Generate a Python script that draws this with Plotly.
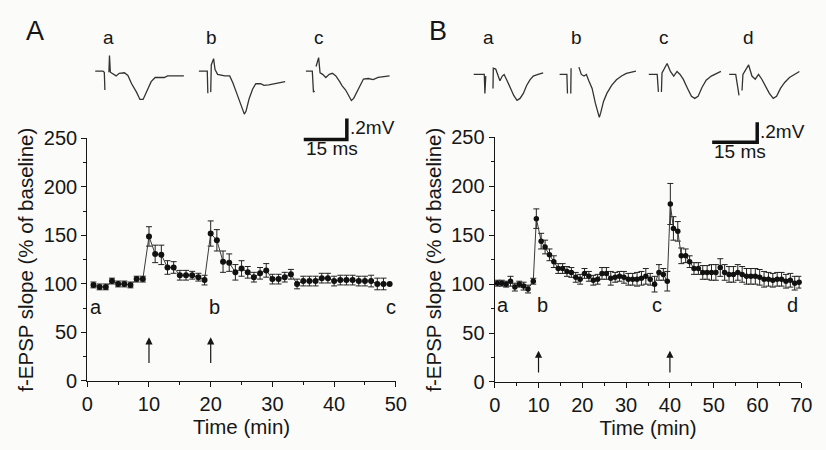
import plotly.graph_objects as go

W, H = 826, 450
FONT = "Liberation Sans"
INK = "#161616"
BG = "#fbfbf9"

# ---------------- data: panel A ----------------
A_time = list(range(1, 50))
A_mean = [99, 97, 97, 103, 100, 100, 99, 105, 105,
          149, 131, 130, 117, 117, 109, 109, 109, 107, 104,
          152, 145, 123, 122, 112, 116, 112, 107, 111, 114,
          105, 105, 107, 110, 100, 103, 103, 103, 106, 106,
          103, 104, 104, 104, 103, 103, 103, 100, 100, 100]
A_err = [3, 3, 3, 3, 3, 3, 3, 3, 3,
         10, 9, 10, 7, 6, 5, 5, 4, 4, 5,
         13, 11, 11, 9, 8, 8, 6, 5, 6, 7,
         5, 5, 5, 5, 5, 5, 5, 5, 5, 5,
         5, 5, 5, 5, 5, 5, 6, 6, 6]
A_letters = ["a", "b", "c"]
A_letter_t = [1.4, 20.6, 49.2]
A_arrow_t = [10, 20]

# ---------------- data: panel B ----------------
B_time = [0.6, 1.6, 2.6, 3.6, 4.6, 5.6, 6.6, 7.6, 8.8,
          9.5,
          10.6, 11.5, 12.5, 13.5, 14.5, 15.5, 16.5, 17.5, 18.5, 19.5,
          20.5, 21.5, 22.5, 23.5, 24.5, 25.5, 26.5, 27.5, 28.5, 29.5,
          30.5, 31.5, 32.5, 33.5, 34.5, 35.5, 36.5, 37.5, 38.5,
          39.4, 40.1, 40.8, 41.8, 42.6, 43.6,
          44.5, 45.5, 46.5, 47.5, 48.5, 49.5, 50.5, 51.5, 52.5, 53.5,
          54.5, 55.5, 56.5, 57.5, 58.5, 59.5, 60.5, 61.5, 62.5, 63.5,
          64.5, 65.5, 66.5, 67.5, 68.5, 69.5]
B_mean = [101, 101, 100, 103, 97, 100, 98, 95, 103,
          167,
          144, 138, 130, 123, 116, 116, 113, 112, 107, 105,
          111, 108, 104, 105, 111, 111, 106, 107, 108, 107,
          105, 105, 105, 106, 108, 105, 100, 112, 110,
          103, 182, 157, 154, 129, 129,
          123, 116, 116, 112, 112, 112, 112, 117, 112, 110,
          110, 112, 110, 108, 108, 108, 107, 105, 105, 104,
          105, 105, 103, 104, 101, 102]
B_err = [3, 3, 3, 5, 4, 3, 4, 4, 3,
         10,
         8, 7, 6, 6, 5, 5, 5, 5, 5, 5,
         5, 5, 5, 5, 6, 6, 7, 5, 5, 6,
         6, 6, 7, 7, 8, 6, 8, 8, 6,
         10, 21, 12, 10, 8, 7,
         6, 6, 6, 7, 7, 8, 8, 9, 8, 8,
         8, 8, 8, 8, 8, 8, 8, 8, 7, 7,
         7, 7, 7, 7, 7, 6]
B_letters = ["a", "b", "c", "d"]
B_letter_t = [2.0, 11.0, 37.1, 68.0]
B_arrow_t = [10, 40]

# ---------------- sample traces (ms, mV); None = pen lift ----------------
A_tr_a_t = [0, 2.7, 3.2, 3.4, None, 4.8, 5.0, 5.3, 6.5, 7.3, 8.4, 10.2, 11.4, 12.7, 14.4, 15.6, 16.7, 17.8, 19.5, 20.9, 24.1, 25.2, 30.9]
A_tr_a_v = [0, 0, -0.01, -0.18, None, -0.01, 0.15, -0.01, -0.03, -0.045, -0.02, -0.015, -0.04, -0.12, -0.2, -0.27, -0.27, -0.2, -0.1, -0.06, -0.06, -0.045, -0.045]
A_tr_b_t = [0, 3.0, 3.2, None, 4.2, 4.4, 5.2, 5.7, 6.6, 8.0, 9.1, 10.8, 11.9, 13.1, 14.2, 15.3, 15.9, 16.5, 17.6, 18.8, 19.9, 21.6, 22.7, 24.4, 26.1, 28.4, 30.1]
A_tr_b_v = [0, 0, -0.21, None, -0.2, 0.06, 0.12, 0.015, -0.03, -0.04, -0.045, -0.045, -0.11, -0.2, -0.29, -0.38, -0.41, -0.38, -0.26, -0.17, -0.12, -0.12, -0.135, -0.13, -0.12, -0.11, -0.1]
A_tr_c_t = [0, 2.3, 2.7, 3.1, None, 3.6, 4.5, 5.0, 5.9, 7.0, 8.2, 9.3, 10.5, 11.6, 12.7, 13.9, 15.0, 15.9, 16.7, 17.8, 19.0, 20.1, 21.8, 23.5, 25.2, 27.5, 29.2]
A_tr_c_v = [0, 0, -0.2, -0.19, None, 0.045, 0.13, -0.015, -0.03, -0.06, -0.03, -0.02, -0.045, -0.09, -0.14, -0.18, -0.23, -0.28, -0.26, -0.2, -0.12, -0.075, -0.07, -0.08, -0.06, -0.05, -0.045]

B_tr_a_t = [0, 3.6, 3.8, 4.1, None, 6.5, 6.6, 7.4, 8.2, 8.8, 9.6, 10.2, 11.2, 12.3, 13.4, 14.5, 15.5, 16.6, 17.7, 18.8, 19.9, 21.5, 23.2]
B_tr_a_v = [0, 0, -0.19, -0.016, None, -0.14, 0.063, 0.054, -0.016, -0.063, -0.016, 0, -0.063, -0.14, -0.21, -0.26, -0.24, -0.19, -0.11, -0.054, -0.016, 0, 0.016]
B_tr_b_t = [0, 2.5, 2.7, None, 3.8, 3.9, None, 6.5, 7.3, 8.2, 9.0, 9.8, 10.9, 12.0, 12.7, 13.3, 13.8, 14.7, 15.8, 17.4, 19.0, 20.7, 22.3, 23.9, 25.5]
B_tr_b_v = [0, 0, -0.19, None, -0.19, 0.063, None, 0.073, 0, -0.016, 0, -0.063, -0.14, -0.29, -0.38, -0.43, -0.38, -0.27, -0.19, -0.11, -0.054, -0.016, 0.01, 0.022, 0.032]
B_tr_c_t = [0, 2.9, 3.3, None, 4.3, 4.5, 6.2, 7.3, 8.4, 9.5, 10.5, 11.6, 13.0, 14.3, 15.4, 16.5, 17.8, 19.2, 20.9, 22.5, 24.1]
B_tr_c_v = [0, 0, -0.175, None, -0.175, 0.016, 0.11, 0.03, -0.016, 0.03, 0, -0.05, -0.14, -0.22, -0.24, -0.22, -0.13, -0.057, -0.016, 0.006, 0.03]
B_tr_d_t = [0, 2.2, 3.3, None, 4.3, 4.6, 6.5, 7.6, 8.7, 9.8, 10.9, 12.0, 13.4, 14.7, 15.8, 17.1, 18.5, 20.1, 21.7, 23.4]
B_tr_d_v = [0, 0, -0.21, None, -0.16, 0, 0.095, -0.016, -0.048, 0, -0.048, -0.11, -0.19, -0.24, -0.22, -0.14, -0.08, -0.03, 0, 0.03]

SCALE_MS = 15
SCALE_MV = 0.2

# ---------------- layout helpers (pixel -> paper) ----------------
def px(x):
    return x / W

def py(y):
    return 1 - y / H

fig = go.Figure()

TICK_SIZE = 20
TITLE_SIZE = 20.5

axis_common = dict(
    showline=True, linecolor=INK, linewidth=1.3, ticks="outside", ticklen=5,
    tickwidth=1.2, tickcolor=INK, showgrid=False, zeroline=False,
    tickfont=dict(family=FONT, size=TICK_SIZE, color=INK),
)

# Main panel A
fig.add_trace(go.Scatter(
    x=A_time, y=A_mean, mode="lines+markers",
    line=dict(color="#3a3a3a", width=1),
    marker=dict(color="#111", size=6),
    error_y=dict(type="data", array=A_err, color="#222", thickness=1, width=3),
    xaxis="x", yaxis="y", showlegend=False, cliponaxis=False))
# Main panel B
fig.add_trace(go.Scatter(
    x=B_time, y=B_mean, mode="lines+markers",
    line=dict(color="#3a3a3a", width=1),
    marker=dict(color="#111", size=5.5),
    error_y=dict(type="data", array=B_err, color="#222", thickness=1, width=3),
    xaxis="x2", yaxis="y2", showlegend=False, cliponaxis=False))

layout = dict(
    width=W, height=H, margin=dict(l=0, r=0, t=0, b=0),
    paper_bgcolor=BG, plot_bgcolor="rgba(0,0,0,0)", showlegend=False,
    font=dict(family=FONT, color=INK),
)

ytitle = "f-EPSP slope (% of baseline)"
title_font = dict(family=FONT, size=TITLE_SIZE, color=INK)
layout["xaxis"] = dict(axis_common, domain=[px(83), px(398)], range=[0, 50],
                       dtick=10, anchor="y",
                       minor=dict(ticks="outside", dtick=5, ticklen=3, tickcolor=INK),
                       title=dict(text="Time (min)", font=title_font, standoff=3))
layout["yaxis"] = dict(axis_common, domain=[py(389), py(134)], range=[0, 250],
                       dtick=50, anchor="x",
                       minor=dict(ticks="outside", dtick=25, ticklen=3, tickcolor=INK),
                       title=dict(text=ytitle, font=title_font, standoff=4))
layout["xaxis2"] = dict(axis_common, domain=[px(499), px(812)], range=[0, 70],
                        dtick=10, anchor="y2",
                        minor=dict(ticks="outside", dtick=5, ticklen=3, tickcolor=INK),
                        title=dict(text="Time (min)", font=title_font, standoff=3))
layout["yaxis2"] = dict(axis_common, domain=[py(390), py(133)], range=[0, 250],
                        dtick=50, anchor="x2",
                        minor=dict(ticks="outside", dtick=25, ticklen=3, tickcolor=INK),
                        title=dict(text=ytitle, font=title_font, standoff=4))

# sample traces as small hidden axes
def add_trace_axes(idx, t, v, x0_px, base_px, ppms, ppmv, xr, yr):
    xd = [px(x0_px + xr[0] * ppms), px(x0_px + xr[1] * ppms)]
    yd = [py(base_px - yr[0] * ppmv), py(base_px - yr[1] * ppmv)]
    layout[f"xaxis{idx}"] = dict(domain=xd, range=xr, visible=False, anchor=f"y{idx}")
    layout[f"yaxis{idx}"] = dict(domain=yd, range=yr, visible=False, anchor=f"x{idx}")
    fig.add_trace(go.Scatter(x=t, y=v, mode="lines", connectgaps=False,
                             line=dict(color="#333", width=1.3),
                             xaxis=f"x{idx}", yaxis=f"y{idx}", showlegend=False, cliponaxis=False))

A_ppms, A_ppmv = 44 / 15, 22 / 0.2
B_ppms, B_ppmv = 46 / 15, 21 / 0.2
A_xr, A_yr = [0, 32], [-0.45, 0.2]
B_xr, B_yr = [0, 27], [-0.48, 0.15]
add_trace_axes(3, A_tr_a_t, A_tr_a_v, 91, 63.3, A_ppms, A_ppmv, A_xr, A_yr)
add_trace_axes(4, A_tr_b_t, A_tr_b_v, 196.7, 63.3, A_ppms, A_ppmv, A_xr, A_yr)
add_trace_axes(5, A_tr_c_t, A_tr_c_v, 306, 63.3, A_ppms, A_ppmv, A_xr, A_yr)
add_trace_axes(6, B_tr_a_t, B_tr_a_v, 477.3, 66.7, B_ppms, B_ppmv, B_xr, B_yr)
add_trace_axes(7, B_tr_b_t, B_tr_b_v, 565, 66.7, B_ppms, B_ppmv, B_xr, B_yr)
add_trace_axes(8, B_tr_c_t, B_tr_c_v, 656, 66.7, B_ppms, B_ppmv, B_xr, B_yr)
add_trace_axes(9, B_tr_d_t, B_tr_d_v, 738.3, 66.7, B_ppms, B_ppmv, B_xr, B_yr)

# scale bars
def add_scale(idx, x0_px, base_px, ppms, ppmv):
    xr = [-2, SCALE_MS + 2]
    yr = [-0.05, SCALE_MV + 0.05]
    xd = [px(x0_px + xr[0] * ppms), px(x0_px + xr[1] * ppms)]
    yd = [py(base_px - yr[0] * ppmv), py(base_px - yr[1] * ppmv)]
    layout[f"xaxis{idx}"] = dict(domain=xd, range=xr, visible=False, anchor=f"y{idx}")
    layout[f"yaxis{idx}"] = dict(domain=yd, range=yr, visible=False, anchor=f"x{idx}")
    fig.add_trace(go.Scatter(x=[0, SCALE_MS, SCALE_MS], y=[0, 0, SCALE_MV], mode="lines",
                             line=dict(color="#111", width=3.5),
                             xaxis=f"x{idx}", yaxis=f"y{idx}", showlegend=False, cliponaxis=False))
    return [
        dict(x=SCALE_MS, y=SCALE_MV * 0.55, xref=f"x{idx}", yref=f"y{idx}", text=".2mV",
             showarrow=False, xanchor="left", yanchor="middle", xshift=1,
             font=dict(family=FONT, size=19, color=INK)),
        dict(x=0, y=0, xref=f"x{idx}", yref=f"y{idx}", text="15 ms",
             showarrow=False, xanchor="left", yanchor="top", yshift=3,
             font=dict(family=FONT, size=19, color=INK)),
    ]

annotations = []
annotations += add_scale(10, 304, 135, A_ppms, A_ppmv)
annotations += add_scale(11, 721, 138, B_ppms, B_ppmv)

# panel letters and trace labels
def lab(x, y, text, size=19):
    return dict(x=px(x), y=py(y), xref="paper", yref="paper", text=text, showarrow=False,
                xanchor="center", yanchor="middle", font=dict(family=FONT, size=size, color=INK))

annotations += [lab(30, 21, "A", 27), lab(441, 21, "B", 27)]
for x, s in zip([105, 210, 320], A_letters):
    annotations.append(lab(x, 28, s))
for x, s in zip([493, 582, 672, 758], B_letters):
    annotations.append(lab(x, 28, s))

# letters under the data
for t, s in zip(A_letter_t, A_letters):
    annotations.append(dict(x=t, y=76, xref="x", yref="y", text=s, showarrow=False,
                            font=dict(family=FONT, size=20, color=INK)))
for t, s in zip(B_letter_t, B_letters):
    annotations.append(dict(x=t, y=79, xref="x2", yref="y2", text=s, showarrow=False,
                            font=dict(family=FONT, size=20, color=INK)))

# arrows
for t in A_arrow_t:
    annotations.append(dict(x=t, y=45, ax=t, ay=17, xref="x", yref="y", axref="x", ayref="y",
                            text="", showarrow=True, arrowhead=2, arrowsize=1.2,
                            arrowwidth=1.2, arrowcolor=INK))
for t in B_arrow_t:
    annotations.append(dict(x=t, y=32, ax=t, ay=8, xref="x2", yref="y2", axref="x2", ayref="y2",
                            text="", showarrow=True, arrowhead=2, arrowsize=1.2,
                            arrowwidth=1.2, arrowcolor=INK))

layout["annotations"] = annotations
fig.update_layout(**layout)
fig.write_html("out.html")
